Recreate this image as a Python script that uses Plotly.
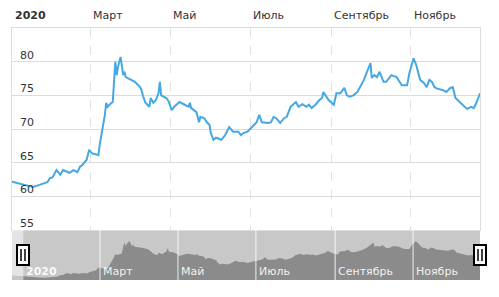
import plotly.graph_objects as go

# ---- data ----
dates = [
    "2019-12-23", "2019-12-27", "2020-01-01", "2020-01-08", "2020-01-17", "2020-01-22",
    "2020-01-28", "2020-01-30", "2020-02-01", "2020-02-04", "2020-02-07", "2020-02-09",
    "2020-02-12", "2020-02-14", "2020-02-17", "2020-02-20", "2020-02-22", "2020-02-24",
    "2020-02-27", "2020-02-29", "2020-03-02", "2020-03-07", "2020-03-08", "2020-03-11",
    "2020-03-12", "2020-03-13", "2020-03-14", "2020-03-17", "2020-03-18", "2020-03-20",
    "2020-03-21", "2020-03-22", "2020-03-24", "2020-03-26", "2020-03-27", "2020-03-28",
    "2020-04-04", "2020-04-08", "2020-04-09", "2020-04-10", "2020-04-12", "2020-04-15",
    "2020-04-16", "2020-04-18", "2020-04-20", "2020-04-22", "2020-04-23", "2020-04-24",
    "2020-04-28", "2020-04-30", "2020-05-02", "2020-05-04", "2020-05-08", "2020-05-12",
    "2020-05-15", "2020-05-16", "2020-05-17", "2020-05-21", "2020-05-23", "2020-05-24",
    "2020-05-27", "2020-05-29", "2020-05-31", "2020-06-01", "2020-06-03", "2020-06-05",
    "2020-06-09", "2020-06-12", "2020-06-15", "2020-06-18", "2020-06-22", "2020-06-24",
    "2020-06-26", "2020-06-29", "2020-07-02", "2020-07-04", "2020-07-06", "2020-07-08",
    "2020-07-10", "2020-07-13", "2020-07-15", "2020-07-17", "2020-07-19", "2020-07-21",
    "2020-07-24", "2020-07-27", "2020-07-29", "2020-08-01", "2020-08-05", "2020-08-07",
    "2020-08-10", "2020-08-13", "2020-08-15", "2020-08-17", "2020-08-20", "2020-08-23",
    "2020-08-25", "2020-08-26", "2020-08-30", "2020-09-03", "2020-09-05", "2020-09-08",
    "2020-09-11", "2020-09-13", "2020-09-15", "2020-09-18", "2020-09-21", "2020-09-23",
    "2020-09-26", "2020-09-28", "2020-10-01", "2020-10-02", "2020-10-04", "2020-10-06",
    "2020-10-08", "2020-10-11", "2020-10-13", "2020-10-17", "2020-10-21", "2020-10-25",
    "2020-10-29", "2020-10-31", "2020-11-03", "2020-11-05", "2020-11-08", "2020-11-11",
    "2020-11-13", "2020-11-15", "2020-11-17", "2020-11-19", "2020-11-21", "2020-11-25",
    "2020-11-28", "2020-12-01", "2020-12-03", "2020-12-05", "2020-12-08", "2020-12-12",
    "2020-12-14", "2020-12-17", "2020-12-19", "2020-12-21", "2020-12-23 18:00",
]
values = [
    62.6, 62.4, 62.2, 61.8, 61.4, 61.7,
    62.1, 62.7, 62.8, 63.9, 63.2, 63.9,
    63.6, 63.5, 63.9, 63.6, 64.4, 64.7,
    65.4, 66.9, 66.4, 66.1, 67.6, 71.0,
    72.1, 73.9, 73.3, 73.9, 74.0, 80.0,
    78.0, 79.2, 80.7, 78.0, 78.5, 77.7,
    77.0, 76.2, 75.8, 75.0, 73.9, 73.3,
    74.6, 73.9, 74.3, 75.3, 77.0, 75.0,
    74.6, 74.0, 72.8, 73.3, 74.0, 73.6,
    73.3, 73.9, 73.1, 72.5, 71.0, 71.8,
    71.6, 71.0, 70.6, 69.4, 68.4, 68.7,
    68.4, 69.1, 70.3, 69.6, 69.6, 69.1,
    69.4, 69.6, 70.3, 70.6, 71.0, 72.1,
    71.0, 70.9, 70.9, 71.0, 71.8, 71.6,
    70.9, 71.6, 71.8, 73.3, 74.0, 73.3,
    73.7, 73.3, 73.6, 73.1, 73.6, 74.3,
    74.6, 75.5, 74.3, 73.6, 75.3, 75.3,
    76.1, 75.0, 74.8, 75.0, 75.5, 76.2,
    77.3, 78.3, 79.8, 77.6, 78.0, 77.7,
    78.5, 77.0, 77.0, 78.0, 77.7, 76.5,
    76.5, 78.5, 80.5, 79.5, 77.3, 76.8,
    76.2, 77.3, 77.0, 76.2, 76.0, 75.8,
    75.5, 76.1, 76.2, 74.6, 74.0, 73.3,
    73.0, 73.3, 73.1, 73.9, 75.3,
]

month_dates = ["2020-01-01", "2020-03-01", "2020-05-01", "2020-07-01", "2020-09-01", "2020-11-01"]
month_labels = ["2020", "Март", "Май", "Июль", "Сентябрь", "Ноябрь"]
y_ticks = [55, 60, 65, 70, 75, 80]

main_range = ["2020-01-01", "2020-12-23 18:00"]
nav_range = ["2019-12-23 03:00", "2020-12-23 09:00"]
nav_y_range = [60.25, 86.4]
selection = ["2020-01-01", nav_range[1]]
handle_paper_x = [0.0235, 1.0]

FONT = "DejaVu Sans"
TXT = "#333333"

fig = go.Figure()
fig.add_trace(go.Scatter(
    x=dates, y=values, mode="lines", xaxis="x", yaxis="y",
    line=dict(color="#45a8e2", width=2), hoverinfo="skip", showlegend=False,
))
fig.add_trace(go.Scatter(
    x=dates, y=values, mode="lines", xaxis="x2", yaxis="y2",
    fill="tozeroy", fillcolor="#8b8b8b", line=dict(width=0, color="#8b8b8b"),
    hoverinfo="skip", showlegend=False,
))

nav_frac = 50 / 252

shapes = []
shapes.append(dict(type="rect", xref="x2 domain", yref="y2 domain", x0=0, x1=1, y0=0, y1=1,
                   fillcolor="#c8c8c8", line=dict(width=0), layer="below"))
for d in month_dates[1:]:
    shapes.append(dict(type="line", xref="x2", yref="y2 domain", x0=d, x1=d, y0=0, y1=1,
                       line=dict(color="rgba(255,255,255,0.85)", width=1), layer="above"))
shapes.append(dict(type="rect", xref="x2", yref="y2 domain", x0=nav_range[0], x1=selection[0],
                   y0=0, y1=1, fillcolor="rgba(255,255,255,0.5)", line=dict(width=0), layer="above"))
yc = nav_frac / 2
for hx in handle_paper_x:
    shapes.append(dict(type="rect", xref="paper", yref="paper", xsizemode="pixel", ysizemode="pixel",
                       xanchor=hx, yanchor=yc, x0=-6, x1=6, y0=-10, y1=10,
                       fillcolor="white", line=dict(color="black", width=2), layer="above"))
    for off in (-2, 2):
        shapes.append(dict(type="line", xref="paper", yref="paper", xsizemode="pixel", ysizemode="pixel",
                           xanchor=hx, yanchor=yc, x0=off, x1=off, y0=-6, y1=6,
                           line=dict(color="black", width=1.5), layer="above"))

annotations = []
for d, lab in zip(month_dates, month_labels):
    txt = "<b>%s</b>" % lab if lab == "2020" else lab
    annotations.append(dict(x=d, xref="x", y=1, yref="paper", text=txt, showarrow=False,
                            xanchor="left", yanchor="bottom", xshift=1, yshift=4,
                            font=dict(family=FONT, size=11, color=TXT)))
    annotations.append(dict(x=d, xref="x2", y=0, yref="y2 domain", text=txt, showarrow=False,
                            xanchor="left", yanchor="bottom", xshift=1, yshift=0,
                            font=dict(family=FONT, size=11, color="rgba(255,255,255,0.9)")))
for t in y_ticks:
    annotations.append(dict(x=0, xref="paper", y=t, yref="y", text=str(t), showarrow=False,
                            xanchor="left", yanchor="bottom", xshift=6, yshift=-2,
                            font=dict(family=FONT, size=11, color=TXT)))

fig.update_layout(
    width=499, height=297,
    margin=dict(l=12, r=19, t=28, b=17),
    paper_bgcolor="white", plot_bgcolor="white",
    font=dict(family=FONT, size=11, color=TXT),
    showlegend=False,
    xaxis=dict(domain=[0, 1], anchor="y", type="date", range=main_range,
               tickvals=month_dates, showticklabels=False, ticks="",
               showgrid=True, gridcolor="#e2e2e2", griddash="dash", gridwidth=1,
               zeroline=False, showline=True, mirror=True, linecolor="#dddddd", linewidth=1),
    yaxis=dict(domain=[nav_frac, 1], anchor="x", range=[55, 85], tickvals=y_ticks,
               showticklabels=False, ticks="", showgrid=True, gridcolor="#dcdcdc",
               zeroline=False, showline=True, mirror=True, linecolor="#dddddd", linewidth=1),
    xaxis2=dict(domain=[0, 1], anchor="y2", type="date", range=nav_range,
                showticklabels=False, ticks="", showgrid=False, zeroline=False, showline=False),
    yaxis2=dict(domain=[0, nav_frac], anchor="x2", range=nav_y_range, visible=False),
    shapes=shapes,
    annotations=annotations,
)

fig.write_html("out.html")
